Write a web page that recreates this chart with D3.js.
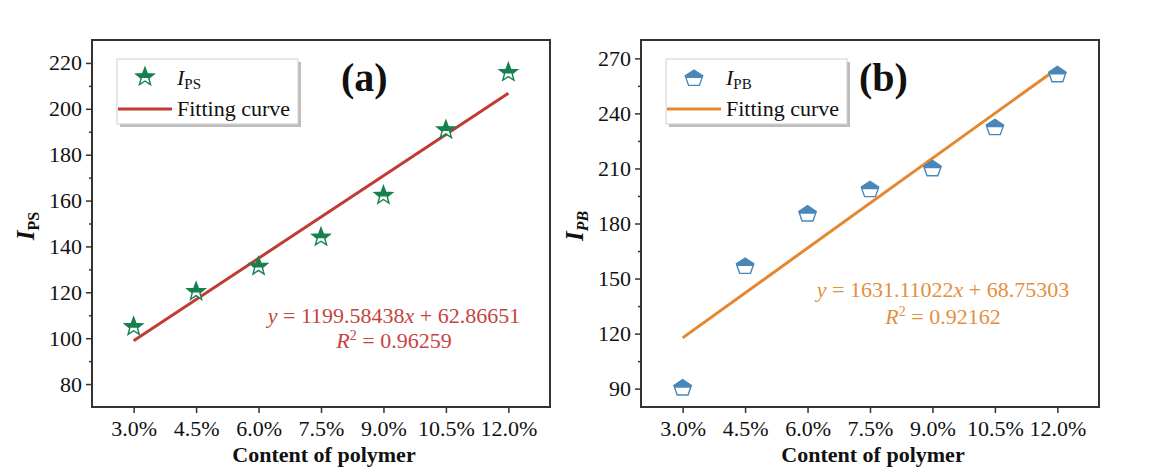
<!DOCTYPE html>
<html><head><meta charset="utf-8">
<script src="https://cdn.jsdelivr.net/npm/d3@7"></script>
<style>
body{margin:0;background:#fff}
svg{display:block}
text{font-family:"Liberation Serif","Times New Roman",serif}
</style>
</head><body>
<svg id="c" width="1164" height="473"></svg>
<script>
// ---- data ----
const contents = [3.0, 4.5, 6.0, 7.5, 9.0, 10.5, 12.0];           // % polymer
const xTickLabels = ["3.0%", "4.5%", "6.0%", "7.5%", "9.0%", "10.5%", "12.0%"];
const ipsValues = [105.0, 120.3, 131.3, 144.0, 162.2, 190.8, 215.8];
const ipbValues = [91.1, 157.4, 185.9, 199.2, 210.6, 233.0, 261.8];
const psFit = [1199.58438, 62.86651];
const pbFit = [1631.11022, 68.75303];
const psFitText = ["1199.58438", "62.86651", "0.96259"];
const pbFitText = ["1631.11022", "68.75303", "0.92162"];
const psYTicks = [80, 100, 120, 140, 160, 180, 200, 220];
const psYMinor = [90, 110, 130, 150, 170, 190, 210];
const pbYTicks = [90, 120, 150, 180, 210, 240, 270];
const pbYMinor = [105, 135, 165, 195, 225, 255];

const svg = d3.select("#c");
const FS = 22;
const axisCol = "#333";

function starPath(R, r) {
  const pts = [];
  for (let i = 0; i < 10; i++) {
    const a = -Math.PI / 2 + i * Math.PI / 5;
    const rad = i % 2 === 0 ? R : r;
    pts.push([rad * Math.cos(a), rad * Math.sin(a)]);
  }
  return "M" + pts.map(p => p.join(",")).join("L") + "Z";
}
function pentPath(R) {
  const pts = [];
  for (let i = 0; i < 5; i++) {
    const a = -Math.PI / 2 + i * 2 * Math.PI / 5;
    pts.push([R * 1.08 * Math.cos(a), R * Math.sin(a) + 1.5]);
  }
  return "M" + pts.map(p => p.join(",")).join("L") + "Z";
}

const defs = svg.append("defs");
defs.append("clipPath").attr("id", "upper")
  .append("rect").attr("x", -20).attr("y", -20).attr("width", 40).attr("height", 21);

function drawPanel(cfg) {
  const left = cfg.left, top = 40, W = 458, H = 367;
  const g = svg.append("g");
  const x = d3.scaleLinear().domain([2, 13]).range([left, left + W]);
  const y = d3.scaleLinear().domain(cfg.yDomain).range([top + H, top]);

  // frame
  g.append("rect").attr("x", left).attr("y", top).attr("width", W).attr("height", H)
    .attr("fill", "none").attr("stroke", axisCol).attr("stroke-width", 2);

  // y axis
  const ya = g.append("g").attr("transform", `translate(${left},0)`)
    .call(d3.axisLeft(y).tickValues(cfg.yTicks).tickSize(6).tickPadding(4).tickFormat(d3.format("d")));
  ya.select(".domain").remove();
  ya.selectAll("line").attr("stroke", axisCol).attr("stroke-width", 1.5);
  ya.selectAll("text").attr("font-size", FS).attr("fill", "#111")
    .style("font-family", '"Liberation Serif","Times New Roman",serif');
  const ym = g.append("g").attr("transform", `translate(${left},0)`)
    .call(d3.axisLeft(y).tickValues(cfg.yMinor).tickSize(3).tickFormat(""));
  ym.select(".domain").remove();
  ym.selectAll("line").attr("stroke", axisCol).attr("stroke-width", 1.5);

  // x axis
  const xa = g.append("g").attr("transform", `translate(0,${top + H})`)
    .call(d3.axisBottom(x).tickValues(contents).tickSize(6).tickPadding(7)
      .tickFormat((d, i) => xTickLabels[i]));
  xa.select(".domain").remove();
  xa.selectAll("line").attr("stroke", axisCol).attr("stroke-width", 1.5);
  xa.selectAll("text").attr("font-size", FS).attr("fill", "#111")
    .style("font-family", '"Liberation Serif","Times New Roman",serif');

  // x title
  g.append("text").attr("x", left + 232).attr("y", 462).attr("text-anchor", "middle")
    .attr("font-size", FS).attr("font-weight", "bold").attr("fill", "#111").text("Content of polymer");

  // y title
  const yt = g.append("text").attr("transform", `translate(${left - 58},${226}) rotate(-90)`)
    .attr("text-anchor", "middle").attr("font-size", 25).attr("font-weight", "bold").attr("fill", "#111");
  yt.append("tspan").attr("font-style", "italic").text("I");
  yt.append("tspan").attr("font-size", 16).attr("dy", 5)
    .attr("font-style", cfg.yTitleSubItalic ? "italic" : "normal").text(cfg.sub);

  // fit line
  const f = cfg.fit;
  const x0 = contents[0], x1 = contents[contents.length - 1];
  g.append("line")
    .attr("x1", x(x0)).attr("y1", y(f[0] * x0 / 100 + f[1]))
    .attr("x2", x(x1)).attr("y2", y(f[0] * x1 / 100 + f[1]))
    .attr("stroke", cfg.lineColor).attr("stroke-width", 3);

  // markers
  const shape = cfg.marker === "star" ? starPath(9.5, 4) : pentPath(8.5);
  function marker(sel) {
    sel.append("path").attr("d", shape).attr("fill", "#fff")
      .attr("stroke", cfg.markColor).attr("stroke-width", 1.4);
    sel.append("path").attr("d", shape).attr("fill", cfg.markColor)
      .attr("clip-path", "url(#upper)");
  }
  g.selectAll("g.m").data(contents).join("g").attr("class", "m")
    .attr("transform", (d, i) => `translate(${x(d)},${y(cfg.values[i])})`)
    .call(marker);

  // legend
  const lx = left + 25, ly = 59, lw = 181, lh = 65;
  g.append("rect").attr("x", lx + 3).attr("y", ly + 3).attr("width", lw).attr("height", lh).attr("fill", "#bdbdbd");
  g.append("rect").attr("x", lx).attr("y", ly).attr("width", lw).attr("height", lh)
    .attr("fill", "#fff").attr("stroke", "#d0d0d0").attr("stroke-width", 1);
  g.append("g").attr("transform", `translate(${left + 53},77)`).call(marker);
  const lt = g.append("text").attr("x", left + 85).attr("y", 85).attr("font-size", FS).attr("fill", "#111");
  lt.append("tspan").attr("font-style", "italic").text("I");
  lt.append("tspan").attr("font-size", 15).attr("dy", 4).text(cfg.sub);
  g.append("line").attr("x1", left + 26).attr("x2", left + 80).attr("y1", 109).attr("y2", 109)
    .attr("stroke", cfg.lineColor).attr("stroke-width", 3);
  g.append("text").attr("x", left + 85).attr("y", 116).attr("font-size", FS).attr("fill", "#111").text("Fitting curve");

  // panel letter
  g.append("text").attr("x", left + cfg.letterX).attr("y", 91).attr("font-size", 40)
    .attr("font-weight", "bold").attr("fill", "#111").text(cfg.letter);

  // equation
  const t = cfg.fitText;
  const e1 = g.append("text").attr("x", left + 302).attr("y", cfg.eqY[0]).attr("text-anchor", "middle")
    .attr("font-size", FS).attr("fill", cfg.textColor);
  e1.append("tspan").attr("font-style", "italic").text("y");
  e1.append("tspan").text(" = " + t[0]);
  e1.append("tspan").attr("font-style", "italic").text("x");
  e1.append("tspan").text(" + " + t[1]);
  const e2 = g.append("text").attr("x", left + 302).attr("y", cfg.eqY[1]).attr("text-anchor", "middle")
    .attr("font-size", FS).attr("fill", cfg.textColor);
  e2.append("tspan").attr("font-style", "italic").text("R");
  e2.append("tspan").attr("font-size", 14).attr("dy", -8).text("2");
  e2.append("tspan").attr("dy", 8).text(" = " + t[2]);
}

drawPanel({
  left: 92, yDomain: [70, 230], yTicks: psYTicks, yMinor: psYMinor, values: ipsValues,
  fit: psFit, fitText: psFitText, sub: "PS", yTitleSubItalic: false,
  marker: "star", markColor: "#17804f", lineColor: "#c23a33", textColor: "#c4453f",
  letter: "(a)", letterX: 249, eqY: [323, 348]
});
drawPanel({
  left: 641, yDomain: [80, 280], yTicks: pbYTicks, yMinor: pbYMinor, values: ipbValues,
  fit: pbFit, fitText: pbFitText, sub: "PB", yTitleSubItalic: true,
  marker: "pent", markColor: "#4a87b9", lineColor: "#e5872f", textColor: "#e48f3e",
  letter: "(b)", letterX: 218, eqY: [297, 324]
});
</script>
</body></html>
